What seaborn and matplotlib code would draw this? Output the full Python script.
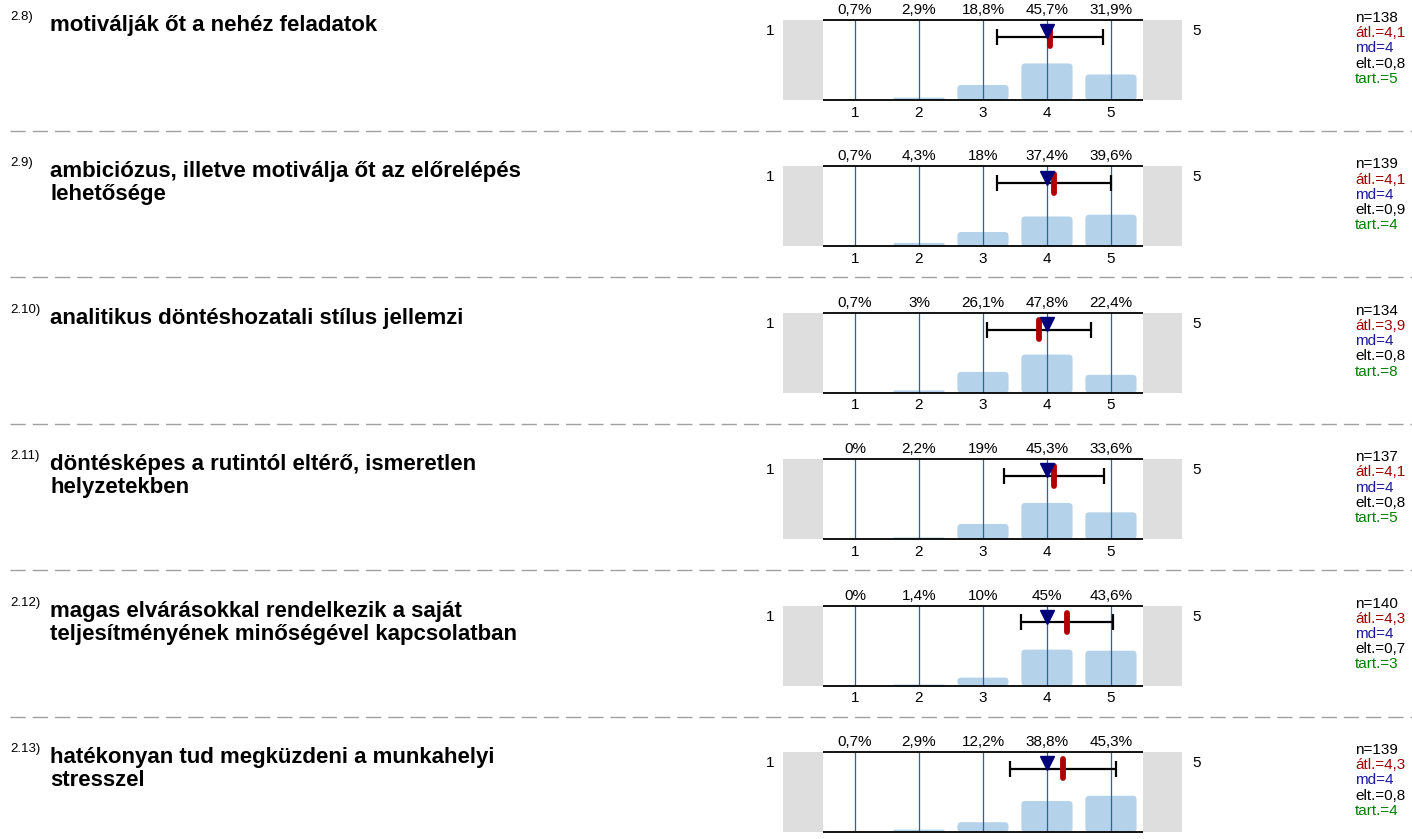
import numpy as np
import seaborn as sns
import matplotlib.pyplot as plt
from matplotlib.lines import Line2D
from matplotlib.patches import FancyBboxPatch

# item numbers and titles
nums = ["2.8)", "2.9)", "2.10)", "2.11)", "2.12)", "2.13)"]
titles = [
    "motiválják őt a nehéz feladatok",
    "ambiciózus, illetve motiválja őt az előrelépés\nlehetősége",
    "analitikus döntéshozatali stílus jellemzi",
    "döntésképes a rutintól eltérő, ismeretlen\nhelyzetekben",
    "magas elvárásokkal rendelkezik a saját\nteljesítményének minőségével kapcsolatban",
    "hatékonyan tud megküzdeni a munkahelyi\nstresszel",
]

# answer scale and percentages per item
scale = [1, 2, 3, 4, 5]
pct_28 = [0.7, 2.9, 18.8, 45.7, 31.9]
pct_29 = [0.7, 4.3, 18.0, 37.4, 39.6]
pct_210 = [0.7, 3.0, 26.1, 47.8, 22.4]
pct_211 = [0.0, 2.2, 19.0, 45.3, 33.6]
pct_212 = [0.0, 1.4, 10.0, 45.0, 43.6]
pct_213 = [0.7, 2.9, 12.2, 38.8, 45.3]
pcts = [pct_28, pct_29, pct_210, pct_211, pct_212, pct_213]

n_vals = [138, 139, 134, 137, 140, 139]
means = [4.05, 4.11, 3.88, 4.11, 4.31, 4.25]
mean_lbl = ["4,1", "4,1", "3,9", "4,1", "4,3", "4,3"]
medians = [4, 4, 4, 4, 4, 4]
sds = [0.83, 0.89, 0.81, 0.78, 0.72, 0.83]
sd_lbl = ["0,8", "0,9", "0,8", "0,8", "0,7", "0,8"]
tart = [5, 4, 8, 5, 3, 4]

W, H = 1412, 839
sns.set_theme(style="white")
plt.rcParams['font.family'] = ['Liberation Sans', 'DejaVu Sans']
plt.rcParams['text.color'] = 'black'
plt.rcParams['xtick.color'] = 'black'

fig = plt.figure(figsize=(W / 100, H / 100), dpi=100)

# background axes in pixel coords for text and separators
bg = fig.add_axes([0, 0, 1, 1])
bg.set_xlim(0, W)
bg.set_ylim(H, 0)
bg.axis('off')

bar_color = '#b4d3ea'
line_color = '#2862a8'
fmt = lambda v: f"{v:g}".replace('.', ',')

for i in range(6):
    top = 20 + i * 146.4

    # title block
    bg.text(10, top - 3, nums[i], fontsize=9.5, va='center', ha='left')
    bg.text(50, top - 5, titles[i], fontsize=16, fontweight='bold', va='top', ha='left',
            linespacing=1.12)

    # stats block
    stats = [(f"n={n_vals[i]}", 'black'),
             (f"átl.={mean_lbl[i]}", '#a00000'),
             (f"md={medians[i]}", '#1a1a9c'),
             (f"elt.={sd_lbl[i]}", 'black'),
             (f"tart.={tart[i]}", '#008000')]
    for k, (s, c) in enumerate(stats):
        bg.text(1355, top - 2 + k * 15.2, s, color=c, fontsize=11, va='center', ha='left')

    # scale end labels
    bg.text(770, top + 11, "1", fontsize=11, va='center', ha='center')
    bg.text(1197, top + 11, "5", fontsize=11, va='center', ha='center')

    # separator
    if i < 5:
        bg.add_line(Line2D([10, W], [top + 111, top + 111], color='#a0a0a0', lw=1,
                           linestyle=(0, (11, 5))))

    # chart axes
    left_px, right_px = 783, 1182
    ax = fig.add_axes([left_px / W, 1 - (top + 80) / H, (right_px - left_px) / W, 80 / H])
    sns.barplot(x=scale, y=pcts[i], native_scale=True, color=bar_color, saturation=1,
                width=0.8, ax=ax)
    ax.set_xlim(-0.125, 6.11)
    ax.set_ylim(0, 100)

    # swap plain bars for rounded ones
    for p in list(ax.patches):
        x0, y0, w, h = p.get_x(), p.get_y(), p.get_width(), p.get_height()
        p.remove()
        if h <= 0:
            continue
        r = min(0.06, h / 80 / 2)
        ax.add_patch(FancyBboxPatch((x0, y0), w, h,
                                    boxstyle=f"round,pad=0,rounding_size={r}",
                                    mutation_aspect=80, fc=bar_color, ec='none', zorder=1))

    ax.axvspan(-0.125, 0.5, color='#dedede', lw=0, zorder=0)
    ax.axvspan(5.5, 6.11, color='#dedede', lw=0, zorder=0)
    for x in scale:
        ax.axvline(x, color=line_color, lw=0.9, zorder=2)
    ax.hlines([0, 100], 0.5, 5.5, color='black', lw=1.3, zorder=3, clip_on=False)
    for sp in ax.spines.values():
        sp.set_visible(False)
    ax.set_yticks([])
    ax.set_xticks(scale)
    ax.set_xticklabels([str(x) for x in scale], fontsize=11)
    ax.tick_params(axis='x', length=0, pad=4)
    ax.set_xlabel('')
    ax.set_ylabel('')

    # percentages above
    for x, v in zip(scale, pcts[i]):
        ax.text(x, 112.5, fmt(v) + '%', ha='center', va='center', fontsize=11, clip_on=False)

    # sd error bar, mean and median markers
    ax.errorbar(means[i], 79, xerr=sds[i], color='black', lw=1.6, capsize=6, capthick=1.6,
                zorder=4)
    ax.plot([means[i], means[i]], [67, 91], color='#b00000', lw=4.2,
            solid_capstyle='round', zorder=5)
    ax.plot(medians[i], 86, marker='v', color='#00007a', ms=9.5, zorder=6)

fig.savefig('out.png', dpi=100)
